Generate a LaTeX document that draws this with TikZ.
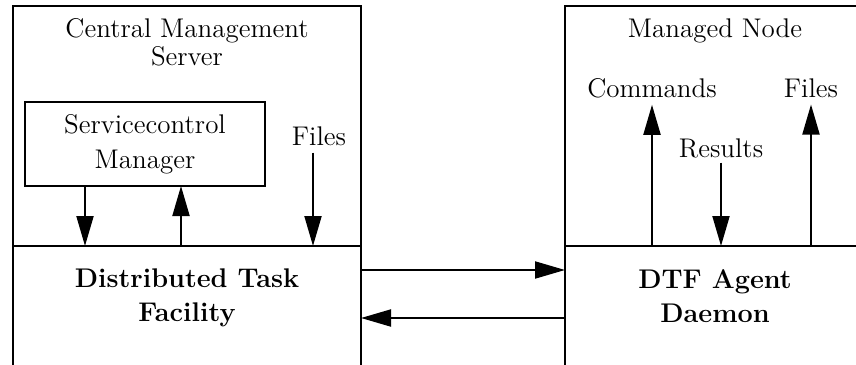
\documentclass[tikz,border=0pt]{standalone}
\usetikzlibrary{arrows.meta,positioning}
\begin{document}
\begin{tikzpicture}[x=0.5pt,y=-0.5pt,>={Triangle[length=15pt,width=8.5pt]},line width=1pt,
	font=\fontsize{13.5}{14}\selectfont,
	part/.style={draw,rectangle,anchor=north west,inner sep=0pt,outer sep=0pt,minimum width=174pt},
	lbl/.style={inner sep=3pt},
	title/.style={align=center,font=\bfseries\fontsize{13.5}{17}\selectfont}]
	\useasboundingbox (0,0) rectangle (856,364);
	\clip (0,0) rectangle (856,364);
	% upper and lower halves of the two panels
	\node[part,minimum height=120pt] (cms) at (13,6) {};
	\node[part,minimum height=70pt] (dtf) at (cms.south west) {};
	\node[part,minimum height=120pt,minimum width=160pt] (mn) at (565,6) {};
	\node[part,minimum height=70pt,minimum width=160pt] (agent) at (mn.south west) {};
	
	\node[align=center] (cmsname) at (187,42) {Central Management\\Server};
	\node[draw,minimum width=120pt,minimum height=42pt,align=center,outer sep=0pt,
		font=\fontsize{13.5}{17.5}\selectfont] (scm) at (145,144) {Servicecontrol\\Manager};
	\node[lbl] (filesA) at (319,136) {Files};
	\node[title] (dtfname) at (187,298) {Distributed Task\\Facility};
	
	\node (mnname) at (715,31) {Managed Node};
	\node[lbl] (cmd) at (652,88) {Commands};
	\node[lbl] (filesB) at (811,88) {Files};
	\node[lbl,inner sep=2pt] (res) at (721,148) {Results};
	\node[title] (agentname) at (715,296) {DTF Agent\\Daemon};
	
	\draw[->] ([xshift=30pt]scm.south west) -- ([xshift=30pt]scm.south west |- cms.south);
	\draw[->] ([xshift=78pt]scm.south west |- cms.south) -- ([xshift=78pt]scm.south west);
	\draw[->] ([xshift=-3pt]filesA.south) -- ([xshift=-3pt]filesA.south |- cms.south);
	
	\draw[->] (cmd.south |- mn.south) -- (cmd.south);
	\draw[->] (res.south) -- (res.south |- mn.south);
	\draw[->] (filesB.south |- mn.south) -- (filesB.south);
	
	\draw[->] ([yshift=-12pt]cms.south east) -- ([yshift=-12pt]mn.south west);
	\draw[->] ([yshift=-36pt]mn.south west) -- ([yshift=-36pt]cms.south east);
\end{tikzpicture}
\end{document}
